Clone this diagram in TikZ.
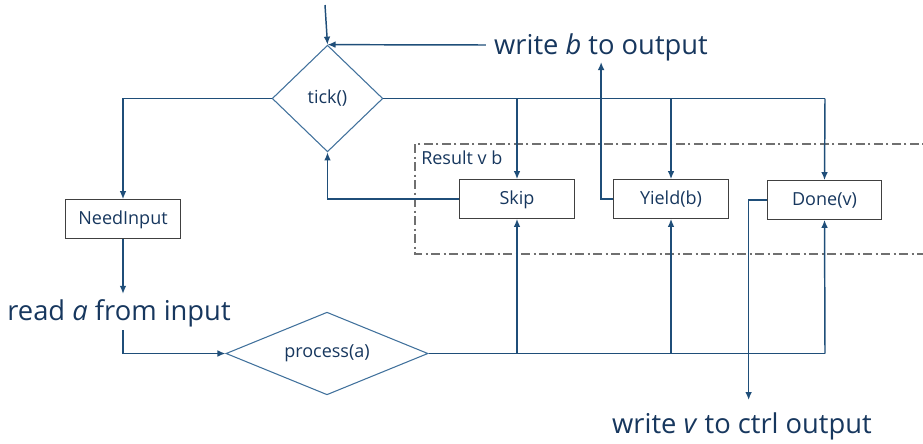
\documentclass[tikz,border=0pt]{standalone}
\usepackage{fontspec}
\setmainfont{Open Sans}
\usetikzlibrary{shapes.geometric,arrows.meta}
\definecolor{flow}{HTML}{1F4E79}
\definecolor{ink}{HTML}{17375E}
\definecolor{edge}{HTML}{41719C}
\definecolor{frame}{HTML}{707070}
\tikzset{
  conn/.style={draw=flow,line width=1.1pt},
  arr/.style={conn,-{Latex[length=6pt,width=5pt]}},
  box/.style={draw=black!75,line width=0.8pt,rectangle,minimum width=86pt,minimum height=29pt,
              text=ink,font=\fontsize{13.5}{15}\selectfont,inner sep=0pt,
              text depth=0pt,text height=7.5pt},
  choice/.style={draw=edge,line width=0.8pt,diamond,aspect=#1,inner sep=0pt,
              text=ink,font=\fontsize{13.5}{15}\selectfont},
  big/.style={text=ink,font=\fontsize{20.5}{24}\selectfont,inner sep=0pt},
}
\begin{document}
\begin{tikzpicture}[x=0.75pt,y=-0.75pt]
\useasboundingbox (0,0) rectangle (923,443);

% result group frame
\draw[frame,line width=0.8pt,dash pattern=on 7pt off 2.5pt on 1.5pt off 2.5pt] (415,144) rectangle (935,254);
\node[anchor=north west,text=ink,font=\fontsize{13.5}{15}\selectfont,inner sep=0pt] (lbl) at (421,151) {Result v b};

% decision nodes
\node[choice=1.04,minimum width=83pt,minimum height=80pt] (tick) at (327.5,98.5) {tick()};
\node[choice=2.43,minimum width=151.5pt,minimum height=62pt] (proc) at (327,353.5) {process(a)};

% result boxes
\node[box] (need) at (123,219) {NeedInput};
\node[box] (skip) at (517,199) {Skip};
\node[box] (yield) at (671,199) {Yield(b)};
\node[box] (done) at (824.5,200) {Done(v)};

% io labels
\node[big] (wb) at (601,47.5) {write \textit{b} to output};
\node[big] (ra) at (119,313) {read \textit{a} from input};
\node[big] (wv) at (742,426) {write \textit{v} to ctrl output};

% junction points
\coordinate (start) at (325,5);
\coordinate (tr) at (825,98.5);
\coordinate (pr) at (825,353.5);

% entry into tick
\draw[arr] (start) -- (tick.north);
\draw[arr] (wb.west) ++(-8,-2.5) -- (tick.north);

% tick fan-out
\draw[conn] (tick.east) -- (tr);
\draw[arr] (skip.north |- tick.east) -- (skip.north);
\draw[arr] (yield.north |- tick.east) -- (yield.north);
\draw[arr] (tr) -- (done.north);
\draw[arr] (tick.west) -| (need.north);

% input path
\draw[arr] (need.south) -- ++(0,55);
\draw[arr] (ra.south -| need.south) ++(0,3) |- (proc.west);

% process fan-out
\draw[conn] (proc.east) -- (pr);
\draw[arr] (skip.south |- proc.east) -- (skip.south);
\draw[arr] (yield.south |- proc.east) -- (yield.south);
\draw[arr] (pr) -- (done.south);

% back edges and outputs
\draw[arr] (skip.west) -| (tick.south);
\draw[arr] (yield.west) -- ++(-12,0) -- ++(0,-137);
\draw[arr] (done.west) -- ++(-18,0) -- ++(0,200);
\end{tikzpicture}
\end{document}
